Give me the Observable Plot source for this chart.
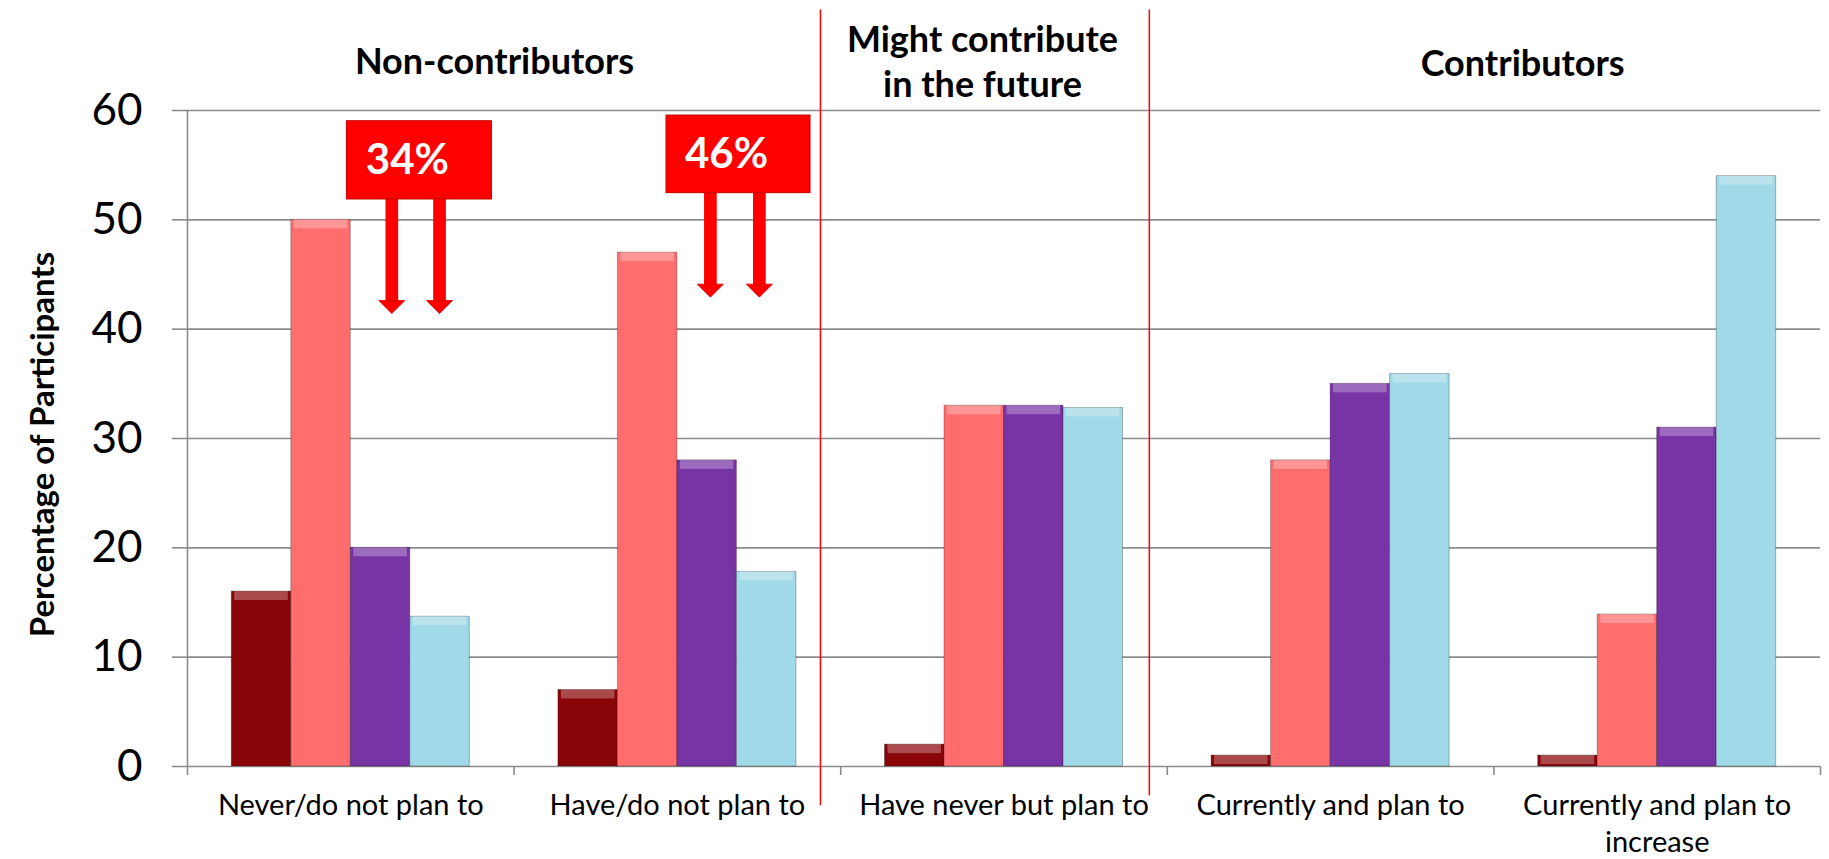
<!DOCTYPE html>
<html><head><meta charset="utf-8">
<script src="https://cdn.jsdelivr.net/npm/d3@7"></script>
<script src="https://cdn.jsdelivr.net/npm/@observablehq/plot@0.6"></script>
<style>html,body{margin:0;padding:0;background:#fff;overflow:hidden} #chart svg{display:block}</style>
</head><body><div id="chart"></div>
<script>
// ---------- data ----------
const categories = ["Never/do not plan to", "Have/do not plan to", "Have never but plan to", "Currently and plan to", "Currently and plan to\nincrease"];
const seriesNames = ["Series 1", "Series 2", "Series 3", "Series 4"];
const seriesDarkRed = [16, 7, 2, 1, 1];
const seriesPink = [50, 47, 33, 28, 13.9];
const seriesPurple = [20, 28, 33, 35, 31];
const seriesLightBlue = [13.7, 17.8, 32.8, 35.9, 54];
const yTicks = [0, 10, 20, 30, 40, 50, 60];
const groupTitles = ["Non-contributors", "Might contribute\nin the future", "Contributors"];
const calloutLabels = ["34%", "46%"];
const yAxisTitle = "Percentage of Participants";

// ---------- layout & style ----------
const seriesColors = ["#8a0508", "#ff6d6d", "#7833a5", "#a0d9e8"];
const barWidth = 0.1822; // fraction of a category slot
const titleX = [0.94, 2.434, 4.088];
const titleY = [63.3, 61.19, 63.2];
const dividerX = [1.938, 2.945];
const dividerY1 = [-3.6, -2.7];
const dividerTop = 69.2;
const calloutX1 = [0.488, 1.4666], calloutX2 = [0.932, 1.9076];
const calloutY1 = [51.86, 52.44], calloutY2 = [59.02, 59.54];
const arrowX = [[0.6256, 0.7717], [1.601, 1.751]];
const arrowTip = [41.43, 42.93];

const seriesValues = [seriesDarkRed, seriesPink, seriesPurple, seriesLightBlue];
const rows = categories.flatMap((c, i) => seriesValues.map((vals, j) => ({category: c, series: seriesNames[j], i, j, value: vals[i]})));
const bx1 = d => d.i + 0.5 + (d.j - 2) * barWidth;
const bx2 = d => d.i + 0.5 + (d.j - 1) * barWidth;

const titles = groupTitles.map((t, k) => ({text: t, x: titleX[k], y: titleY[k]}));
const dividers = dividerX.map((x, k) => ({x, y1: dividerY1[k], y2: dividerTop}));
const callouts = calloutLabels.map((t, k) => ({text: t, x1: calloutX1[k], x2: calloutX2[k], y1: calloutY1[k], y2: calloutY2[k]}));
const arrows = callouts.flatMap((c, k) => arrowX[k].map(x => ({x, y1: c.y1, tip: arrowTip[k]})));

const headSymbol = {draw(ctx) { ctx.moveTo(-13, -6.5); ctx.lineTo(13, -6.5); ctx.lineTo(0, 6.5); ctx.closePath(); }};
const gray = "#8c8c8c";

const chart = Plot.plot({
  width: 1829, height: 859,
  marginLeft: 187, marginRight: 9, marginTop: 110, marginBottom: 93,
  style: {fontFamily: "Lato, 'Open Sans', sans-serif", fontSize: "28px", color: "#000", background: "#fff", overflow: "visible"},
  x: {domain: [0, 5]},
  y: {domain: [0, 60]},
  color: {domain: seriesNames, range: seriesColors},
  marks: [
    Plot.gridY(yTicks, {stroke: gray, strokeOpacity: 1, strokeWidth: 1.6}),
    Plot.ruleX([0], {stroke: gray, strokeWidth: 1.6}),
    Plot.axisY(yTicks, {tickSize: 15, tickPadding: 30, stroke: gray, strokeWidth: 1.6, fontSize: 44, label: null, fill: "#000"}),
    Plot.axisX(d3.range(categories.length + 1), {tickSize: 9, tickFormat: () => "", stroke: gray, strokeWidth: 1.6, label: null}),
    Plot.axisX(categories.map((c, i) => i + 0.5), {tickSize: 0, tickPadding: 23, tickFormat: d => categories[Math.floor(d)], fontSize: 29, lineHeight: 1.26, label: null, fill: "#000"}),
    Plot.rectY(rows, {x1: bx1, x2: bx2, y: "value", fill: "series", stroke: "#000", strokeOpacity: 0.28, strokeWidth: 1, ariaLabel: "bars"}),
    Plot.rectY(rows, {x1: bx1, x2: bx2, y1: "value", y2: "value", insetBottom: -9, insetLeft: 3, insetRight: 3, fill: "white", fillOpacity: 0.28}),
    Plot.ruleX(dividers, {x: "x", y1: "y1", y2: "y2", stroke: "#ff0000", strokeWidth: 1.5}),
    Plot.ruleX(arrows, {x: "x", y1: "y1", y2: "tip", insetBottom: 12, stroke: "#ff0000", strokeWidth: 12.7, ariaLabel: "arrow-shaft"}),
    Plot.dot(arrows, {x: "x", y: "tip", dy: -6.5, symbol: headSymbol, fill: "#ff0000", stroke: "#d00000", strokeWidth: 0.8, ariaLabel: "arrow-head"}),
    Plot.rect(callouts, {x1: "x1", x2: "x2", y1: "y1", y2: "y2", fill: "#ff0000", stroke: "#c40000", strokeWidth: 1, ariaLabel: "callout"}),
    Plot.text(callouts, {x: d => (d.x1 + d.x2) / 2, y: d => (d.y1 + d.y2) / 2, dx: -12, text: "text", fill: "#fff", fontSize: 42, fontWeight: "bold"}),
    Plot.text(titles, {x: "x", y: "y", text: "text", lineAnchor: "bottom", fontSize: 36, fontWeight: "bold", lineHeight: 1.25, fill: "#000"}),
    Plot.text([yAxisTitle], {frameAnchor: "left", textAnchor: "middle", y: 29.45, dx: -144, rotate: -90, text: d => d, fontSize: 33, fontWeight: "bold", fill: "#000"})
  ]
});
document.getElementById("chart").appendChild(chart);
chart.querySelectorAll('[aria-label="bars"]').forEach(g => g.style.filter = "drop-shadow(2px 2px 2px rgba(0,0,0,0.35))");
chart.querySelectorAll('[aria-label="callout"],[aria-label="arrow-shaft"],[aria-label="arrow-head"]').forEach(g => g.style.filter = "drop-shadow(4px 4px 3px rgba(0,0,0,0.45))");
</script>
</body></html>
